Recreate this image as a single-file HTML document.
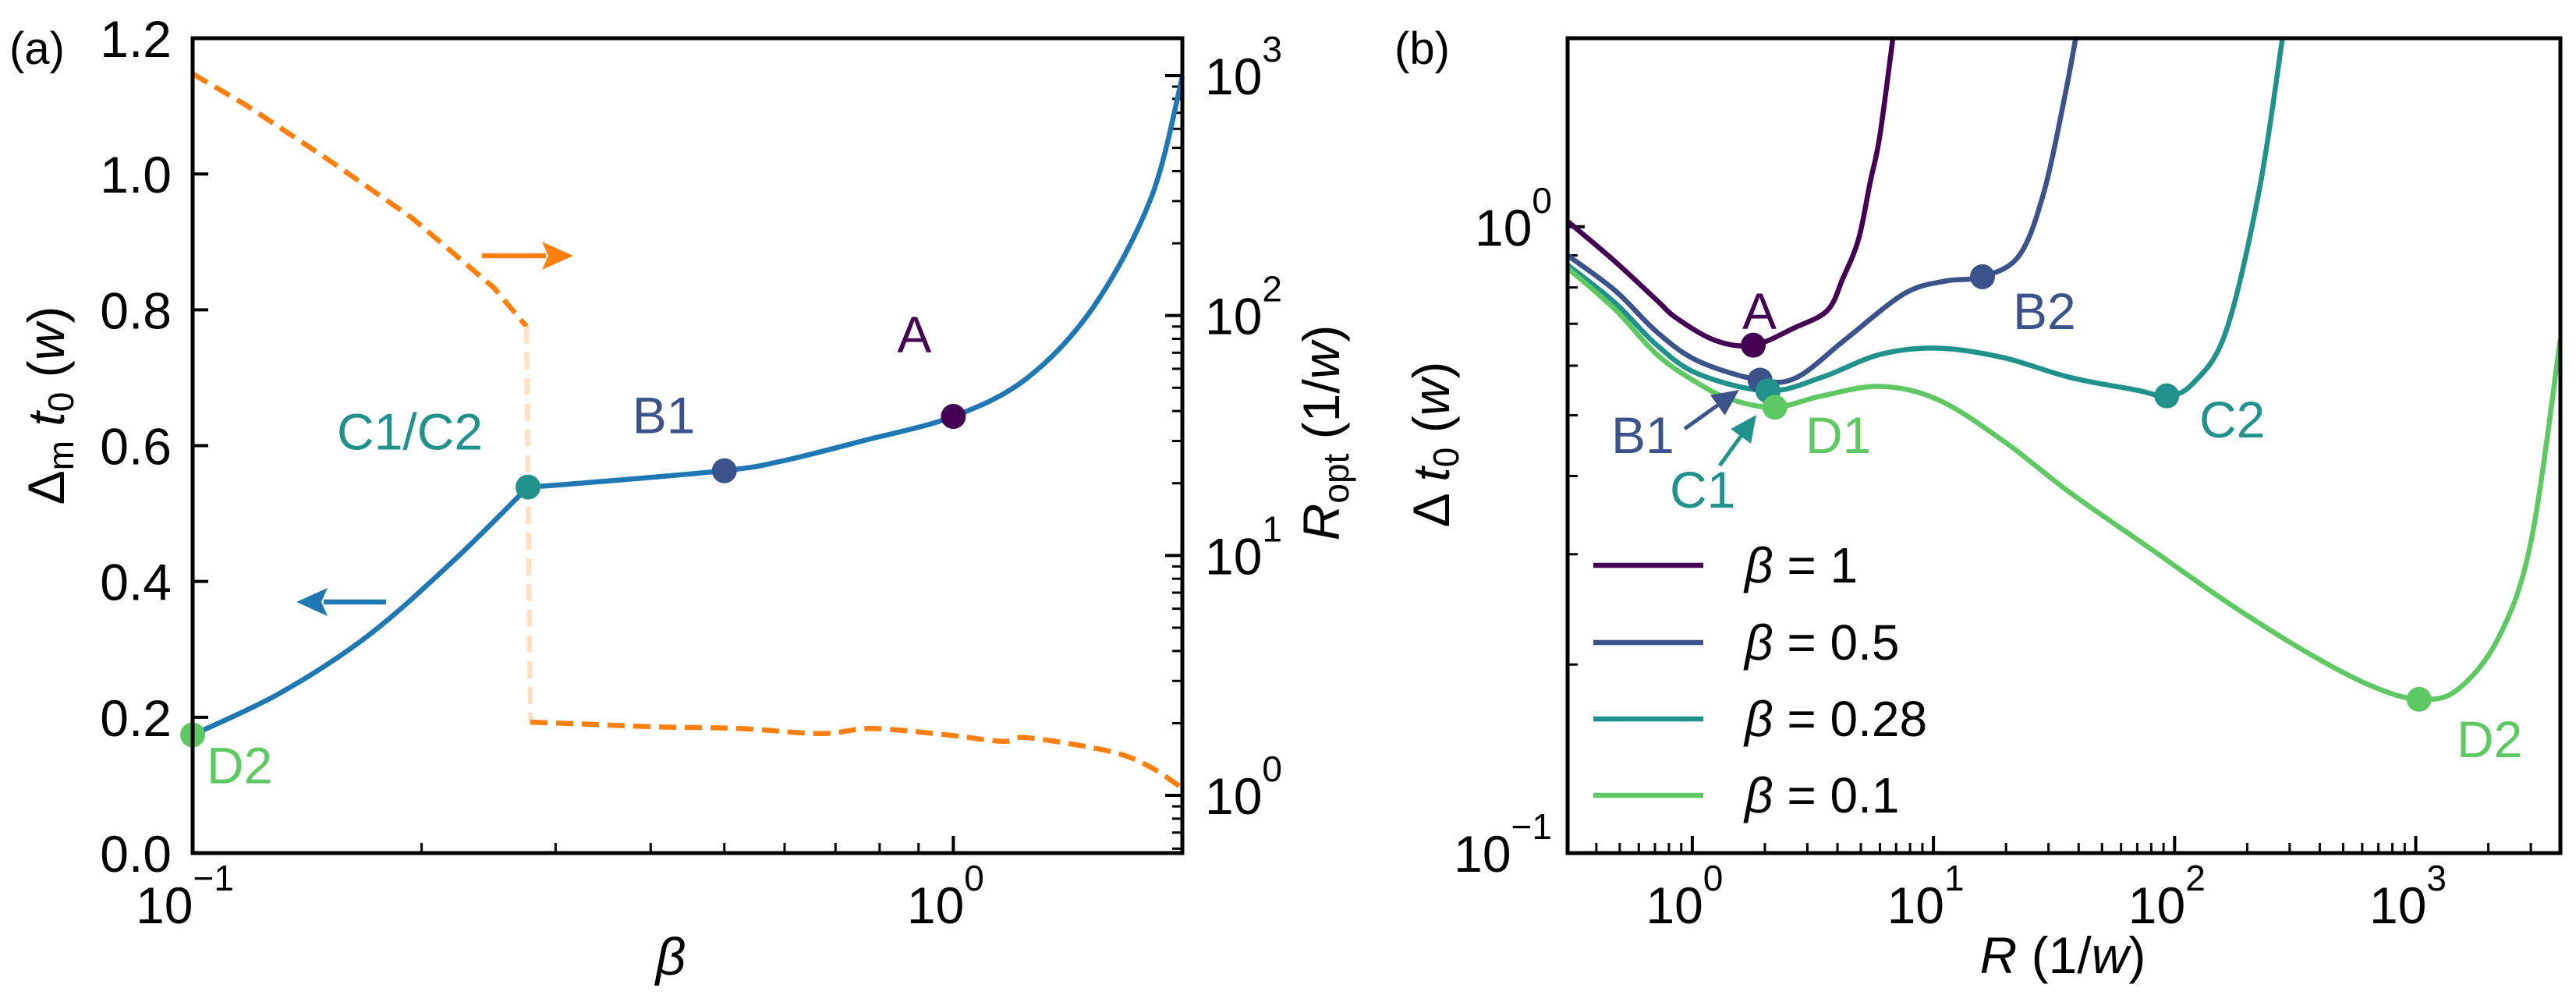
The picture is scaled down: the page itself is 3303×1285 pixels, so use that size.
<!DOCTYPE html>
<html><head><meta charset="utf-8"><style>
html,body{margin:0;padding:0;background:#fff;}
svg{display:block;font-family:"Liberation Sans",sans-serif;}
</style></head><body>
<svg id="fig" width="3303" height="1285" viewBox="0 0 3303 1285" xmlns="http://www.w3.org/2000/svg">
<g id="pa"></g>
<g id="pb"></g>
</svg>
<script>
// ---------- Panel (a) data ----------
const betaBlueL = [0.1,0.13,0.17,0.22,0.276];
const gapBlueL  = [0.174,0.235,0.32,0.43,0.539];
const betaBlueR = [0.276,0.318,0.4986,0.594,0.76,1.0,1.252,1.53,1.82,2.0];
const gapBlueR  = [0.539,0.544,0.563,0.577,0.607,0.643,0.70,0.805,0.965,1.143];
const betaOrA  = [0.1,0.1178,0.151,0.194,0.2486,0.2747];
const roptA    = [1018,750,445,256,131,90];
const betaOrB  = [0.278,0.318,0.409,0.524,0.6715,0.78,0.978,1.16,1.25,1.6,1.81,2.0];
const roptB    = [2.02,1.99,1.93,1.90,1.81,1.90,1.79,1.68,1.74,1.53,1.32,1.07];
const markBeta = [0.1,0.276,0.5,1.0];
const markGap  = [0.174,0.539,0.563,0.643];
const markName = ["D2","C1/C2","B1","A"];
const leftTicks = [0,0.2,0.4,0.6,0.8,1.0,1.2];
const leftTickLabels = ["0.0","0.2","0.4","0.6","0.8","1.0","1.2"];
// ---------- Panel (b) data ----------
const seriesB = ["β = 1","β = 0.5","β = 0.28","β = 0.1"];
const R1 = [0.304,0.48,0.713,0.863,1.25,1.79,2.64,3.63,4.21,4.89,5.47,5.98,6.79];
const D1 = [1.02,0.879,0.763,0.714,0.658,0.647,0.689,0.735,0.827,0.955,1.18,1.39,2.0];
const R2 = [0.304,0.48,0.713,1.06,1.91,2.72,4.36,7.57,11.2,15.97,22.7,28.8,35.1,38.9];
const D2 = [0.90,0.79,0.679,0.61,0.569,0.575,0.663,0.782,0.819,0.832,0.90,1.14,1.62,2.0];
const R3 = [0.304,0.48,0.713,1.06,2.06,3.45,5.98,10.4,19.5,36.6,68.7,92.8,119,163,224,280];
const D3 = [0.869,0.755,0.647,0.582,0.547,0.575,0.625,0.64,0.618,0.575,0.549,0.537,0.562,0.679,1.14,2.0];
const R4 = [0.304,0.48,0.713,1.06,1.45,2.2,3.45,5.98,10.4,19.5,36.6,80.6,177,387,674,1032,1480,2195,3000,3980];
const D4 = [0.859,0.737,0.625,0.562,0.53,0.515,0.537,0.556,0.53,0.455,0.377,0.305,0.247,0.205,0.184,0.176,0.182,0.22,0.313,0.663];
const markR = [1.79,1.91,15.97,2.06,92.8,2.2,1032];
const markD = [0.647,0.569,0.832,0.547,0.537,0.515,0.176];
const markS = [0,1,1,2,2,3,3];
const xTickExpB = [0,1,2,3];

const colors = ["#440154","#3b528b","#21918c","#5ec962"];
const NS="http://www.w3.org/2000/svg";
function el(tag, attrs, parent, text){
  const e=document.createElementNS(NS,tag);
  for(const k in attrs) e.setAttribute(k,attrs[k]);
  if(text!==undefined) e.textContent=text;
  parent.appendChild(e); return e;
}
function smooth(pts){
  if(pts.length<2) return "";
  let d="M"+pts[0][0].toFixed(1)+","+pts[0][1].toFixed(1);
  for(let i=0;i<pts.length-1;i++){
    const p0=pts[Math.max(0,i-1)],p1=pts[i],p2=pts[i+1],p3=pts[Math.min(pts.length-1,i+2)];
    const c1=[p1[0]+(p2[0]-p0[0])/6,p1[1]+(p2[1]-p0[1])/6];
    const c2=[p2[0]-(p3[0]-p1[0])/6,p2[1]-(p3[1]-p1[1])/6];
    d+=" C"+c1[0].toFixed(1)+","+c1[1].toFixed(1)+" "+c2[0].toFixed(1)+","+c2[1].toFixed(1)+" "+p2[0].toFixed(1)+","+p2[1].toFixed(1);
  }
  return d;
}
function poly(pts){return "M"+pts.map(p=>p[0].toFixed(1)+","+p[1].toFixed(1)).join(" L");}
function supLabel(parent,x,y,base,exp,anchor,name){
  const t=el("text",{x:x,y:y,"font-size":66,"text-anchor":anchor||"middle"},parent);
  
  
  el("tspan",{},t,base);
  el("tspan",{dy:-42,"font-size":46},t,exp);
  return t;
}
const LW=6.5, MR=16;

// ================= Panel A =================
const A=document.getElementById("pa");
const aL=247,aR=1516,aT=49,aB=1094;
const bx0=Math.log10(0.1), bx1=Math.log10(2.0);
const ax=v=>aL+(Math.log10(v)-bx0)/(bx1-bx0)*(aR-aL);
const ayL=v=>aB-v/1.2*(aB-aT);
const ry0=Math.log10(0.575), ry1=Math.log10(1432);
const ayR=v=>aB-(Math.log10(v)-ry0)/(ry1-ry0)*(aB-aT);

leftTicks.forEach((v,i)=>{
  const y=ayL(v);
  const tk=el("line",{x1:aL,x2:aL+20,y1:y,y2:y,stroke:"#000","stroke-width":4},A);
  
  
  const t=el("text",{x:220,y:y+24,"font-size":66,"text-anchor":"end"},A,leftTickLabels[i]);
  
  
});
for(let e=-1;e<=0;e++){for(let m=1;m<10;m++){const v=m*Math.pow(10,e); if(v<0.1||v>2.0) continue;
  const x=ax(v); const len=m===1?22:13;
  const tk=el("line",{x1:x,x2:x,y1:aB,y2:aB-len,stroke:"#000","stroke-width":m===1?4:3},A);
  
  
}}
supLabel(A,ax(0.1)-10,1184,"10","−1","middle","x-tick-label-0.1");
supLabel(A,ax(1)-10,1184,"10","0","middle","x-tick-label-1");
for(let e=-1;e<=3;e++){for(let m=1;m<10;m++){const v=m*Math.pow(10,e); if(v<0.575||v>1432) continue;
  const y=ayR(v); const len=m===1?22:13;
  const tk=el("line",{x1:aR,x2:aR-len,y1:y,y2:y,stroke:"#000","stroke-width":m===1?4:3},A);
  
  
}}
[0,1,2,3].forEach(e=>{supLabel(A,1545,ayR(Math.pow(10,e))+24,"10",String(e),"start","right-y-tick-label");});

const ptsOA=betaOrA.map((b,i)=>[ax(b),ayR(roptA[i])]);
const ptsOB=betaOrB.map((b,i)=>[ax(b),ayR(roptB[i])]);
let p=el("path",{d:poly(ptsOA),fill:"none",stroke:"#ff7f0e","stroke-width":LW,"stroke-dasharray":"22,11"},A);


const last=ptsOA[ptsOA.length-1], first=ptsOB[0];
p=el("line",{x1:last[0],y1:last[1],x2:first[0],y2:first[1],stroke:"#ffe0c4","stroke-width":LW,"stroke-dasharray":"22,11"},A);


p=el("path",{d:smooth(ptsOB),fill:"none",stroke:"#ff7f0e","stroke-width":LW,"stroke-dasharray":"22,11"},A);



p=el("path",{d:smooth(betaBlueL.map((b,i)=>[ax(b),ayL(gapBlueL[i])]))+" "+smooth(betaBlueR.map((b,i)=>[ax(b),ayL(gapBlueR[i])])),fill:"none",stroke:"#1f77b4","stroke-width":LW,"stroke-linejoin":"round"},A);


const mcolA=[colors[3],colors[2],colors[1],colors[0]];
const mlab=[[18,62],[-245,-48],[-118,-48],[-72,-82]];
markBeta.forEach((b,i)=>{
  const x=ax(b),y=ayL(markGap[i]);
  const c=el("circle",{cx:x,cy:y,r:MR,fill:mcolA[i]},A);
  
  
  const t=el("text",{x:x+mlab[i][0],y:y+mlab[i][1],"font-size":66,fill:mcolA[i]},A,markName[i]);
  
  
});
p=el("line",{x1:618,y1:328,x2:700,y2:328,stroke:"#ff7f0e","stroke-width":LW},A);


p=el("polygon",{points:"735,328 695,310 703,328 695,346",fill:"#ff7f0e"},A);


p=el("line",{x1:495,y1:772,x2:415,y2:772,stroke:"#1f77b4","stroke-width":LW},A);


p=el("polygon",{points:"380,772 420,754 412,772 420,790",fill:"#1f77b4"},A);



p=el("rect",{x:aL,y:aT,width:aR-aL,height:aB-aT,fill:"none",stroke:"#000","stroke-width":5},A);


let t=el("text",{x:12,y:82,"font-size":58},A,"(a)");
 
t=el("text",{x:860,y:1250,"font-size":68,"font-style":"italic","text-anchor":"middle"},A,"β");
 
t=el("text",{x:0,y:0,"font-size":66,"text-anchor":"middle",transform:"translate(82,520) rotate(-90)"},A);
 
el("tspan",{},t,"Δ");el("tspan",{"font-size":46,dy:12},t,"m");el("tspan",{dy:-12,"font-style":"italic"},t," t");el("tspan",{"font-size":46,dy:12},t,"0");el("tspan",{dy:-12},t," (");el("tspan",{"font-style":"italic"},t,"w");el("tspan",{},t,")");
t=el("text",{x:0,y:0,"font-size":66,"text-anchor":"middle",transform:"translate(1717,555) rotate(-90)"},A);
 
el("tspan",{"font-style":"italic"},t,"R");el("tspan",{"font-size":46,dy:12},t,"opt");el("tspan",{dy:-12},t," (1/");el("tspan",{"font-style":"italic"},t,"w");el("tspan",{},t,")");

// ================= Panel B =================
const B=document.getElementById("pb");
const bL=2010,bR=3283,bT=49,bB=1094;
const rx0=Math.log10(0.304), rx1=Math.log10(3980);
const bxs=v=>bL+(Math.log10(v)-rx0)/(rx1-rx0)*(bR-bL);
const dy0=-1, dy1=Math.log10(2.0);
const bys=v=>bB-(Math.log10(v)-dy0)/(dy1-dy0)*(bB-bT);
for(let e=-1;e<=3;e++){for(let m=1;m<10;m++){const v=m*Math.pow(10,e); if(v<0.304||v>3980) continue;
  const x=bxs(v); const len=m===1?22:13;
  const tk=el("line",{x1:x,x2:x,y1:bB,y2:bB-len,stroke:"#000","stroke-width":m===1?4:3},B);
  
  
}}
xTickExpB.forEach(e=>supLabel(B,bxs(Math.pow(10,e))-10,1184,"10",String(e),"middle","x-tick-label-b"));
for(let e=-1;e<=0;e++){for(let m=1;m<10;m++){const v=m*Math.pow(10,e); if(v<0.1||v>2) continue;
  const y=bys(v); const len=m===1?22:13;
  const tk=el("line",{x1:bL,x2:bL+len,y1:y,y2:y,stroke:"#000","stroke-width":m===1?4:3},B);
  
  
}}
supLabel(B,1990,bys(1)+24,"10","0","end","y-tick-label-1");
supLabel(B,1990,bys(0.1)+24,"10","−1","end","y-tick-label-0.1");

const clip=el("clipPath",{id:"clipb"},B);
el("rect",{x:bL,y:bT,width:bR-bL,height:bB-bT},clip);
const RS=[R1,R2,R3,R4], DS=[D1,D2,D3,D4];
RS.forEach((R,s)=>{
  const pp=el("path",{d:smooth(R.map((r,i)=>[bxs(r),bys(DS[s][i])])),fill:"none",stroke:colors[s],"stroke-width":LW,"clip-path":"url(#clipb)"},B);
  
  
});
markR.forEach((r,i)=>{
  const c=el("circle",{cx:bxs(r),cy:bys(markD[i]),r:MR,fill:colors[markS[i]]},B);
  
  
});
const lblB=[["A",2256,398,0],["B2",2603,398,1],["C2",2842,537,2],["D2",3172,947,3],["D1",2337,557,3],["B1",2088,557,1],["C1",2163,627,2]];
lblB.forEach(l=>{
  const tt=el("text",{x:l[1]-22,y:l[2]+24,"font-size":66,fill:colors[l[3]]},B,l[0]);
  
  
});
function arrow(x1,y1,x2,y2,col,name){
  const ang=Math.atan2(y2-y1,x2-x1), L=34, W=16;
  const bx=x2-L*Math.cos(ang), by=y2-L*Math.sin(ang);
  let a=el("line",{x1:x1,y1:y1,x2:bx,y2:by,stroke:col,"stroke-width":5},B);
   
  a=el("polygon",{points:`${x2},${y2} ${bx-W*Math.sin(ang)},${by+W*Math.cos(ang)} ${bx+W*Math.sin(ang)},${by-W*Math.cos(ang)}`,fill:col},B);
   
}
arrow(2160,550,2230,500,colors[1],'b1-arrow');
arrow(2205,597,2252,532,colors[2],'c1-arrow');
const legY=[725,824,922,1020];
seriesB.forEach((s,i)=>{
  const g=el("g",{},B);
  
  
  el("line",{x1:2043,x2:2184,y1:legY[i],y2:legY[i],stroke:colors[i],"stroke-width":LW},g);
  const tt=el("text",{x:2237,y:legY[i]+22,"font-size":64},g);
  el("tspan",{"font-style":"italic"},tt,"β");
  el("tspan",{},tt,s.slice(1));
});
p=el("rect",{x:bL,y:bT,width:bR-bL,height:bB-bT,fill:"none",stroke:"#000","stroke-width":5},B);


t=el("text",{x:1788,y:82,"font-size":58},B,"(b)");
 
t=el("text",{x:2645,y:1248,"font-size":66,"text-anchor":"middle"},B);
 
el("tspan",{"font-style":"italic"},t,"R");el("tspan",{},t," (1/");el("tspan",{"font-style":"italic"},t,"w");el("tspan",{},t,")");
t=el("text",{x:0,y:0,"font-size":66,"text-anchor":"middle",transform:"translate(1858,570) rotate(-90)"},B);
 
el("tspan",{},t,"Δ ");el("tspan",{"font-style":"italic"},t,"t");el("tspan",{"font-size":46,dy:12},t,"0");el("tspan",{dy:-12},t," (");el("tspan",{"font-style":"italic"},t,"w");el("tspan",{},t,")");
</script>
</body></html>
